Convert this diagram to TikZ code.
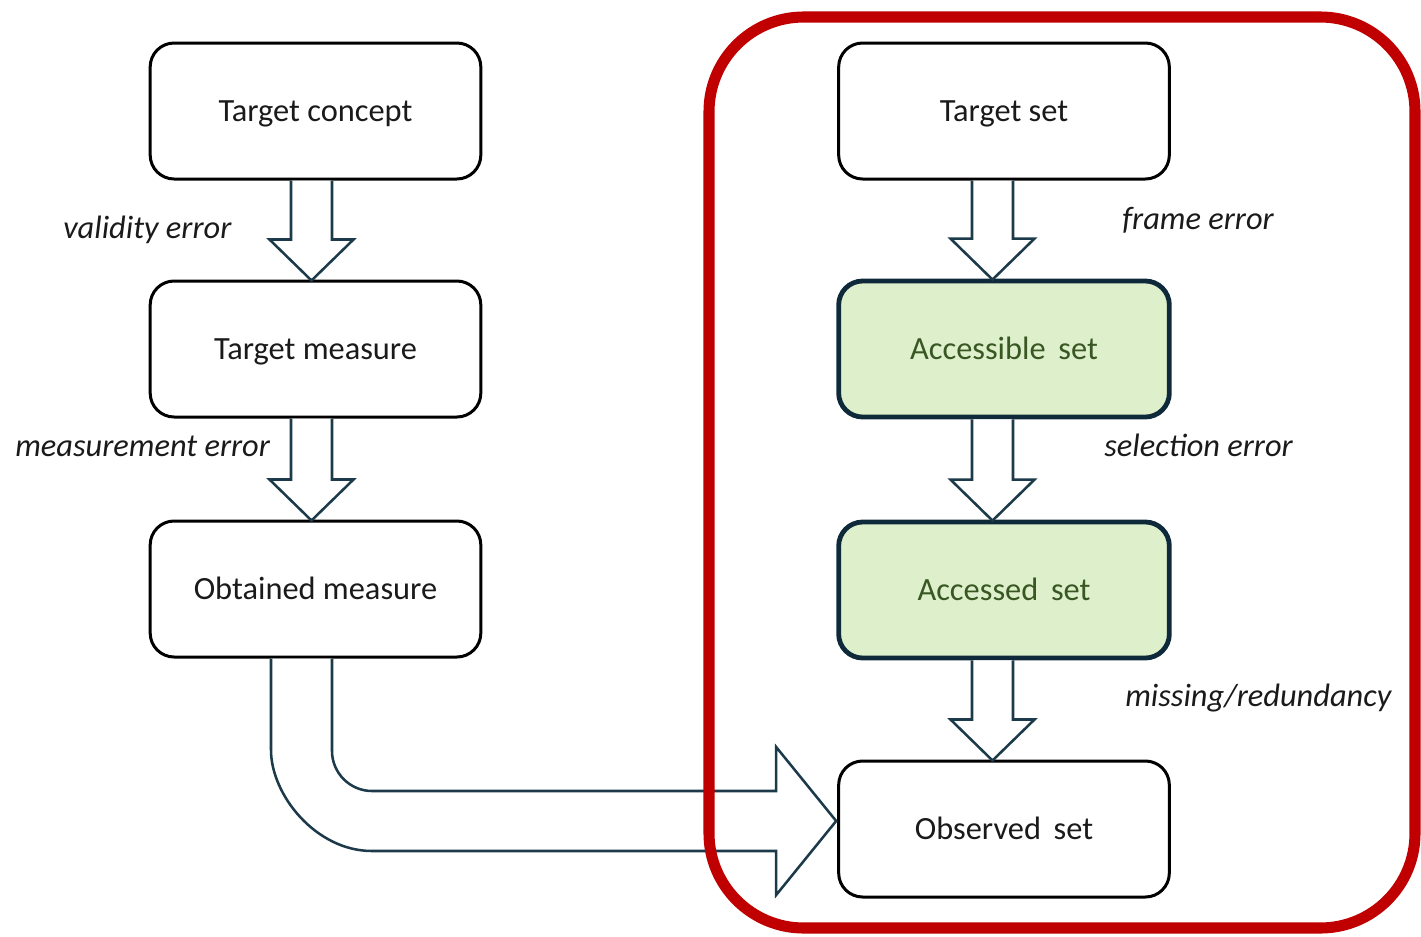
\documentclass[tikz,border=0pt]{standalone}
\usepackage{fontspec}
\setmainfont{Carlito}
\usetikzlibrary{calc}
\definecolor{boxtext}{HTML}{1A1A1A}
\definecolor{greenfill}{HTML}{DEEFCB}
\definecolor{greentext}{HTML}{385723}
\definecolor{navy}{HTML}{0E2A3A}
\definecolor{arrowline}{HTML}{1C3A4A}
\definecolor{frame}{HTML}{C00000}
\tikzset{
  stagebox/.style={draw=black, line width=2.25pt, rounded corners=18pt, fill=white,
    minimum width=248pt, minimum height=102pt, inner sep=0pt,
    text height=15.3pt, text depth=0pt,
    font=\fontsize{24.3}{29}\selectfont, text=boxtext},
  greenbox/.style={stagebox, draw=navy, line width=3.6pt, fill=greenfill, text=greentext},
  errlabel/.style={anchor=base west, inner sep=0pt, font=\fontsize{24.3}{29}\selectfont\itshape, text=boxtext},
  blockarr/.style={draw=arrowline, line width=1.9pt, line join=miter, fill=white},
  redframe/.style={draw=frame, line width=8.3pt, rounded corners=71pt}
}
% hollow block arrow pointing down: #1 source node, #2 target node, #3 horizontal offset
\newcommand\downblock[3]{%
  \draw[blockarr] ($(#1.south)+(#3-20.5,0)$) -- ($(#2.north)+(#3-20.5,-40)$)
    -- ($(#2.north)+(#3-42,-40)$) -- ($(#2.north)+(#3,1)$)
    -- ($(#2.north)+(#3+42,-40)$) -- ($(#2.north)+(#3+20.5,-40)$)
    -- ($(#1.south)+(#3+20.5,0)$);}
\begin{document}
\begin{tikzpicture}[x=0.75pt, y=-0.75pt]
\useasboundingbox (0,0) rectangle (1421,936);

% measurement chain
\node[stagebox] (tc) at (315.5,111) {Target concept};
\node[stagebox] (tm) at (315.5,349) {Target measure};
\node[stagebox] (om) at (315.5,589) {Obtained measure};

% sampling chain
\node[stagebox] (ts) at (1004,111) {Target set};
\node[greenbox] (as) at (1004,349) {Accessible\, set};
\node[greenbox] (ad) at (1004,590) {Accessed\, set};
\node[stagebox] (os) at (1004,829) {Observed\, set};

% block arrows between stages
\downblock{tc}{tm}{-4}
\downblock{tm}{om}{-4}
\downblock{ts}{as}{-11.5}
\downblock{as}{ad}{-11.5}
\downblock{ad}{os}{-11.5}

% error labels
\node[errlabel] (l1) at (63,238) {validity error};
\node[errlabel] (l2) at (15,456) {measurement error};
\node[errlabel] (l3) at (1122,229) {frame error};
\node[errlabel] (l4) at (1104,456) {selection error};
\node[errlabel] (l5) at (1125,706) {missing/redundancy};

% bent block arrow from the obtained measure to the observed set
\coordinate (bt) at ($(os.west)+(-1,-8)$);
\coordinate (i0) at ($(om.south)+(16.5,0)$);
\coordinate (o0) at ($(om.south)+(-44.5,0)$);
\coordinate (ih) at ($(bt)+(-60,-30)$);
\coordinate (oh) at ($(bt)+(-60,30)$);
\coordinate (ic) at (i0 |- ih);
\coordinate (oc) at (o0 |- oh);
\draw[blockarr] (i0) -- ($(ic)+(0,-40)$)
  .. controls ($(ic)+(0,-18)$) and ($(ic)+(18,0)$) .. ($(ic)+(40,0)$)
  -- (ih) -- ($(bt)+(-60,-74)$) -- (bt) -- ($(bt)+(-60,74)$) -- (oh)
  -- ($(oc)+(101,0)$)
  .. controls ($(oc)+(45,0)$) and ($(oc)+(0,-56)$) .. ($(oc)+(0,-101)$)
  -- (o0);

% frame round the sampling chain
\draw[redframe] (709,17) rectangle (1415,928);
\end{tikzpicture}
\end{document}
